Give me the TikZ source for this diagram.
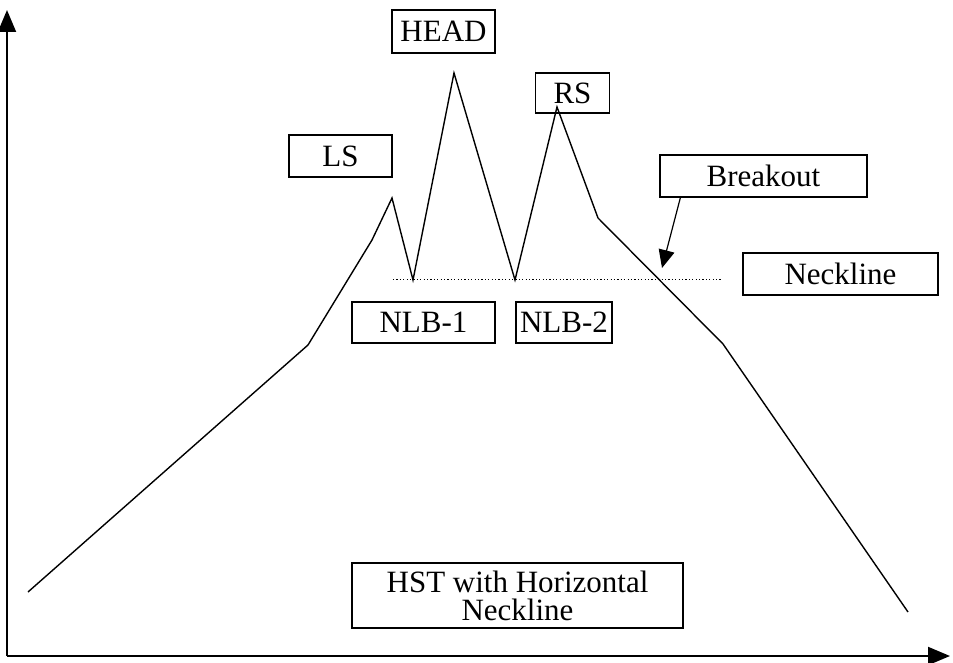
\documentclass[tikz,border=0pt]{standalone}
\usepackage{fontspec}
\setmainfont{Liberation Serif}
\usetikzlibrary{arrows.meta}

\tikzset{
    lbl/.style={draw, line width=0.6pt, inner sep=0pt, align=center,
                font=\fontsize{15.5}{14}\selectfont},
    axis/.style={line width=1pt, -{Triangle[length=11pt, width=9pt]}},
    price/.style={line width=0.7pt, line join=miter},
    neck/.style={line width=0.5pt, dash pattern=on 0.6pt off 1.1pt},
    pointer/.style={line width=0.6pt, -{Triangle[length=9pt, width=8pt]}}
}

\begin{document}
\begin{tikzpicture}[x=0.5pt, y=-0.5pt]
            \useasboundingbox (0,0) rectangle (953,663);
            % Axes
            \coordinate (origin) at (  7,656);
            \coordinate (ytop)   at (  7, 10);
            \coordinate (xend)   at (950,656);
            \draw[axis] (origin) -- (ytop);
            \draw[axis] (origin) -- (xend);
            % Price path
            \draw[price] ( 28,592) -- (308,345) -- (372,240) -- (392,198) -- (413,280)
                      -- (454, 73) -- (515,280) -- (557,107) -- (598,218) -- (723,344)
                      -- (908,612);
            % Neckline
            \draw[neck] (393,280) -- (722,280);
            % Labels
            \node[lbl, minimum width=51.5pt, minimum height=21.5pt] (head) at (443.5, 31.5) {HEAD};
            \node[lbl, minimum width=51.5pt, minimum height=21pt]   (ls)   at (340.5,156.0) {LS};
            \node[lbl, minimum width=37pt,   minimum height=20pt]   (rs)   at (572.5, 93.0) {RS};
            \node[lbl, minimum width=71.5pt, minimum height=20.5pt] (nlba) at (423.5,322.5) {NLB-1};
            \node[lbl, minimum width=48pt,   minimum height=20.5pt] (nlbb) at (564.0,322.5) {NLB-2};
            \node[lbl, minimum width=103.5pt,minimum height=21pt]   (bo)   at (763.5,176.0) {Breakout};
            \node[lbl, minimum width=97.5pt, minimum height=21pt]   (nl)   at (840.5,274.0) {Neckline};
            \node[lbl, minimum width=165.5pt,minimum height=32.5pt] (hst)  at (517.5,595.5) {HST with Horizontal\\Neckline};
            % Breakout pointer
            \coordinate (brk) at (662,268);
            \draw[pointer] ([xshift=10.5pt]bo.south west) -- (brk);
\end{tikzpicture}
\end{document}
